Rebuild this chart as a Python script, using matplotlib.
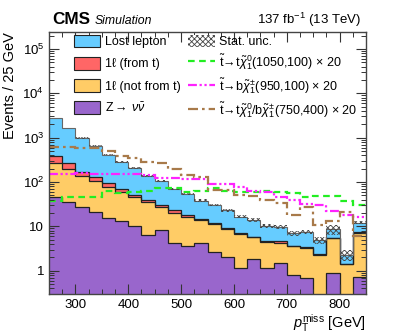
import numpy as np
import matplotlib
matplotlib.use('Agg')
from matplotlib import pyplot as plt
from matplotlib.patches import Patch
from matplotlib.lines import Line2D
from matplotlib.ticker import MultipleLocator, LogLocator, NullFormatter, FuncFormatter

plt.rcParams['font.family'] = ['Liberation Sans', 'DejaVu Sans']
plt.rcParams['mathtext.fontset'] = 'custom'
plt.rcParams['mathtext.rm'] = 'Liberation Sans'
plt.rcParams['mathtext.it'] = 'Liberation Sans:italic'
plt.rcParams['mathtext.bf'] = 'Liberation Sans:bold'
plt.rcParams['hatch.linewidth'] = 0.6

# 25 GeV bins from 250 to 850
edges = np.arange(250, 851, 25)

z_nunu = [46, 36, 27, 21, 15.8, 13.5, 10.4, 6.4, 8.3, 4.2, 3.7, 4.2,
          2.7, 2.0, 1.14, 1.8, 1.14, 1.48, 0.8, 0.68, 0, 0.9, 0, 0.74]
onel_not_t = [222, 164, 113, 84, 63, 45.5, 35.6, 28.6, 19.7, 15.8, 12.9, 9.8,
              8.7, 6.7, 5.66, 3.9, 3.36, 2.72, 2.8, 2.52, 2.3, 4.6, 1.4, 6.46]
onel_t = [112, 68, 32, 25, 18, 10, 5, 5, 2, 3, 1.4, 1,
          0.4, 0.5, 0.2, 0.2, 0.1, 0.4, 0.1, 0.3, 0.05, 0.1, 0.02, 0.1]
lost_lep = [2380, 1382, 808, 530, 313, 214, 155, 95, 78, 47, 35, 23,
            18.7, 13.8, 9.6, 8.1, 5.7, 5.0, 3.3, 4.1, 2.65, 3.1, 0.88, 4.9]
stat_rel = [0.02, 0.02, 0.03, 0.03, 0.03, 0.04, 0.04, 0.05, 0.05, 0.06, 0.06, 0.07,
            0.07, 0.08, 0.08, 0.09, 0.09, 0.1, 0.12, 0.1, 0.18, 0.25, 0.27, 0.08]

sig_t = [38, 45, 47, 47, 64, 57, 61, 62, 73, 73, 61, 62,
         73, 64, 61, 61, 64, 61, 56, 47, 49, 49, 38, 31]
sig_b = [153, 148, 158, 153, 153, 153, 150, 145, 126, 123, 116, 116,
         91, 91, 79, 64, 60, 46, 40, 32, 30, 22.5, 18, 16.6]
sig_mix = [615, 615, 585, 585, 490, 390, 346, 290, 268, 195, 145, 133,
           66, 66, 51, 49, 40, 34.5, 18, 27, 10.8, 13.5, 21.6, 6]

bkg_names = ['Z$\\rightarrow$$\\,\\nu\\bar{\\nu}$', '1\u2113 (not from t)', '1\u2113 (from t)', 'Lost lepton']
bkg_colors = ['#9966cc', '#ffcc66', '#ff6666', '#66ccff']

fig = plt.figure(figsize=(4.07, 3.35), dpi=100)
ax = fig.add_axes([0.1204, 0.1224, 0.779, 0.782])
ax.set_yscale('log')

low = 1e-3
cum = np.zeros(len(z_nunu))
for vals, col in zip([z_nunu, onel_not_t, onel_t, lost_lep], bkg_colors):
    top = cum + np.array(vals)
    ax.stairs(np.maximum(top, low), edges, baseline=np.maximum(cum, low),
              fill=True, color=col, lw=0)
    cum = top

# outlines of stack
cum = np.zeros(len(z_nunu))
for vals in [z_nunu, onel_not_t, onel_t]:
    cum = cum + np.array(vals)
    ax.stairs(np.maximum(cum, low), edges, baseline=None, color='#222222', lw=0.9)
total = cum + np.array(lost_lep)
ax.stairs(total, edges, baseline=None, color='#666666', lw=0.8)

unc = total * np.array(stat_rel)
ax.stairs(total + unc, edges, baseline=total - unc, fill=True, facecolor='none',
          edgecolor='#444444', hatch='xxxxxx', lw=0)

ax.stairs(sig_t, edges, baseline=None, color='#22ee22', lw=1.6, linestyle=(0, (3, 2)))
ax.stairs(sig_b, edges, baseline=None, color='#ff22ff', lw=1.6,
          linestyle=(0, (4, 1.2, 1, 1.2, 1, 1.2)))
ax.stairs(sig_mix, edges, baseline=None, color='#a87a4a', lw=1.6,
          linestyle=(0, (4.5, 1.8, 1.2, 1.8)))

ax.set_xlim(250, 850)
ax.set_ylim(0.3, 2.4e5)

ax.xaxis.set_major_locator(MultipleLocator(100))
ax.xaxis.set_minor_locator(MultipleLocator(25))
ax.yaxis.set_major_locator(LogLocator(base=10, numticks=10))
ax.yaxis.set_minor_locator(LogLocator(base=10, subs=np.arange(2, 10), numticks=20))
ax.yaxis.set_minor_formatter(NullFormatter())


def yfmt(v, pos):
    if v < 0.5:
        return ''
    if v < 50:
        return '%d' % round(v)
    return '$10^{%d}$' % round(np.log10(v))


ax.yaxis.set_major_formatter(FuncFormatter(yfmt))
ax.tick_params(which='both', direction='in', top=True, right=True, labelsize=9.5,
               color='#333333')
ax.tick_params(which='major', length=7, width=0.8)
ax.tick_params(which='minor', length=3.5, width=0.7)
for s in ax.spines.values():
    s.set_color('#444444')
    s.set_linewidth(1.0)

ax.set_xlabel('$p_{\\rm T}^{\\rm miss}$ [GeV]', fontsize=10.5, loc='right')
ax.xaxis.set_label_coords(1.0, -0.068)
ax.xaxis.label.set_va('top')
ax.set_ylabel('Events / 25 GeV', fontsize=10.5, loc='top')
ax.yaxis.set_label_coords(-0.1, 1.0)

ax.text(0.01, 1.03, 'CMS', transform=ax.transAxes, fontsize=12.3, fontweight='bold',
        va='baseline', ha='left')
ax.text(0.145, 1.03, 'Simulation', transform=ax.transAxes, fontsize=8.8, style='italic',
        va='baseline', ha='left')
ax.text(0.984, 1.03, '137 fb$^{-1}$ (13 TeV)', transform=ax.transAxes, fontsize=9.5,
        va='baseline', ha='right')

h1 = [Patch(facecolor=c, edgecolor='#222222', lw=0.8) for c in bkg_colors[::-1]]
l1 = bkg_names[::-1]
leg1 = ax.legend(h1, l1, loc='upper left', bbox_to_anchor=(0.079, 0.99), frameon=False,
                 fontsize=9, handlelength=2.08, handleheight=1.2, handletextpad=0.4,
                 labelspacing=0.68, borderpad=0, borderaxespad=0)
ax.add_artist(leg1)

h2 = [Patch(facecolor='white', edgecolor='#444444', hatch='xxxxxx', lw=0),
      Line2D([], [], color='#22ee22', lw=1.6, linestyle=(0, (3, 2))),
      Line2D([], [], color='#ff22ff', lw=1.6, linestyle=(0, (4, 1.2, 1, 1.2, 1, 1.2))),
      Line2D([], [], color='#a87a4a', lw=1.6, linestyle=(0, (4.5, 1.8, 1.2, 1.8)))]
l2 = ['Stat. unc.',
      '$\\tilde{\\rm t}\\!\\rightarrow\\!{\\rm t}\\tilde{\\chi}^{0}_{1}$(1050,100) $\\times$ 20',
      '$\\tilde{\\rm t}\\!\\rightarrow\\!{\\rm b}\\tilde{\\chi}^{\\pm}_{1}$(950,100) $\\times$ 20',
      '$\\tilde{\\rm t}\\!\\rightarrow\\!{\\rm t}\\tilde{\\chi}^{0}_{1}/{\\rm b}\\tilde{\\chi}^{\\pm}_{1}$(750,400) $\\times$ 20']
leg2 = ax.legend(h2, l2, loc='upper left', bbox_to_anchor=(0.438, 0.99), frameon=False,
                 fontsize=9, handlelength=2.16, handleheight=1.2, handletextpad=0.3,
                 labelspacing=0.32, borderpad=0, borderaxespad=0)

fig.savefig('out.png', dpi=100)
